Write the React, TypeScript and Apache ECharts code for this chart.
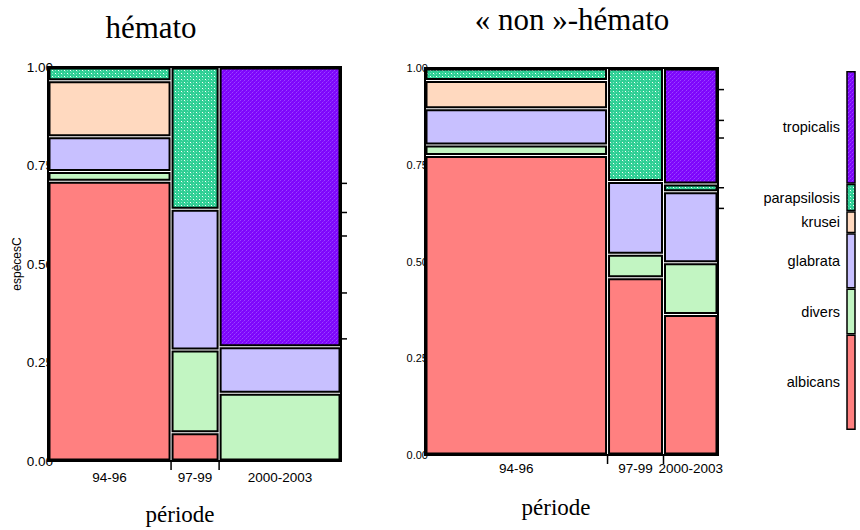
import React, { useEffect, useRef } from "react";
import * as echarts from "echarts";

// Species (stacking order, bottom to top) and periods (columns, left to right)
const species = ["albicans", "divers", "glabrata", "krusei", "parapsilosis", "tropicalis"];
const periods = ["94-96", "97-99", "2000-2003"];
const yTicks = [0, 0.25, 0.5, 0.75, 1];

// hémato: share of isolates per period (column widths)
const hematoPeriodShare = [0.42, 0.164, 0.416];
// hémato: proportion of each species within each period
const hematoAlbicans = [0.71, 0.072, 0];
const hematoDivers = [0.025, 0.21, 0.172];
const hematoGlabrata = [0.088, 0.357, 0.118];
const hematoKrusei = [0.142, 0, 0];
const hematoParapsilosis = [0.035, 0.361, 0];
const hematoTropicalis = [0, 0, 0.71];

// « non »-hémato: share of isolates per period (column widths)
const nonHematoPeriodShare = [0.623, 0.191, 0.186];
// « non »-hémato: proportion of each species within each period
const nonHematoAlbicans = [0.774, 0.458, 0.363];
const nonHematoDivers = [0.027, 0.061, 0.134];
const nonHematoGlabrata = [0.094, 0.188, 0.183];
const nonHematoKrusei = [0.073, 0, 0];
const nonHematoParapsilosis = [0.032, 0.293, 0.02];
const nonHematoTropicalis = [0, 0, 0.3];

// Legend bar segment shares (same order as species)
const legendShares = [0.266, 0.128, 0.154, 0.061, 0.077, 0.314];

const SANS = '"Liberation Sans", Arial, sans-serif';
const SERIF = '"Liberation Serif", "Times New Roman", serif';

function makeTile(size: number, base: string, pixels: [number, number, string][]) {
  const c = document.createElement("canvas");
  c.width = size;
  c.height = size;
  const ctx = c.getContext("2d")!;
  ctx.fillStyle = base;
  ctx.fillRect(0, 0, size, size);
  pixels.forEach(([x, y, col]) => {
    ctx.fillStyle = col;
    ctx.fillRect(x, y, 1, 1);
  });
  return c;
}

function speciesFills(): any[] {
  const tealTile = makeTile(6, "#2ecf94", [
    [1, 1, "#ffffff"],
    [4, 4, "#ffffff"],
    [4, 1, "#86e8c4"],
    [1, 4, "#86e8c4"],
    [2, 2, "#5cdcae"],
    [5, 5, "#5cdcae"],
  ]);
  const purpleTile = makeTile(4, "#7e06fb", [
    [0, 0, "#9a45ff"],
    [2, 2, "#9a45ff"],
    [1, 3, "#8a22ff"],
    [3, 1, "#8a22ff"],
  ]);
  return [
    "#ff8080",
    "#c2f5c2",
    "#c8c0ff",
    "#ffd9bf",
    { image: tealTile, repeat: "repeat" },
    { image: purpleTile, repeat: "repeat" },
  ];
}

// Mosaic cells: [x0, x1, y0, y1, speciesIndex]
function buildCells(shares: number[], bySpecies: number[][]) {
  const cells: number[][] = [];
  let x = 0;
  shares.forEach((w, c) => {
    let y = 0;
    bySpecies.forEach((vals, s) => {
      const v = vals[c];
      if (v > 0) cells.push([x, x + w, y, y + v, s]);
      y += v;
    });
    x += w;
  });
  return cells;
}

// Column extents: [x0, x1, periodIndex]
function buildColumns(shares: number[]) {
  const cols: number[][] = [];
  let x = 0;
  shares.forEach((w, c) => {
    cols.push([x, x + w, c]);
    x += w;
  });
  return cols;
}

// Cumulative marginal species proportions (inner boundaries only)
function buildMarginals(shares: number[], bySpecies: number[][]) {
  const out: number[][] = [];
  let cum = 0;
  bySpecies.forEach((vals, s) => {
    cum += vals.reduce((acc, v, c) => acc + v * shares[c], 0);
    if (s < bySpecies.length - 1) out.push([cum]);
  });
  return out;
}

export default function App() {
  const ref = useRef<HTMLDivElement>(null);

  useEffect(() => {
    if (!ref.current) return;
    const chart = echarts.init(ref.current, undefined, { renderer: "svg" });
    const fills = speciesFills();

    const hemato = [hematoAlbicans, hematoDivers, hematoGlabrata, hematoKrusei, hematoParapsilosis, hematoTropicalis];
    const nonHemato = [
      nonHematoAlbicans,
      nonHematoDivers,
      nonHematoGlabrata,
      nonHematoKrusei,
      nonHematoParapsilosis,
      nonHematoTropicalis,
    ];

    const cellSeries = (gridIdx: number, data: number[][]) => ({
      type: "custom",
      xAxisIndex: gridIdx,
      yAxisIndex: gridIdx,
      data,
      encode: { x: [0, 1], y: [2, 3] },
      z: 3,
      renderItem: (_p: any, api: any) => {
        const a = api.coord([api.value(0), api.value(2)]);
        const b = api.coord([api.value(1), api.value(3)]);
        const ins = 1.5;
        return {
          type: "rect",
          shape: {
            x: a[0] + ins,
            y: b[1] + ins,
            width: Math.max(0, b[0] - a[0] - 2 * ins),
            height: Math.max(0, a[1] - b[1] - 2 * ins),
          },
          style: { fill: fills[api.value(4)], stroke: "#000", lineWidth: 2 },
        };
      },
    });

    const periodSeries = (gridIdx: number, data: number[][], dy: number) => ({
      type: "custom",
      xAxisIndex: gridIdx,
      yAxisIndex: gridIdx,
      data,
      encode: { x: [0, 1] },
      z: 4,
      renderItem: (_p: any, api: any) => {
        const c = api.value(2);
        const a = api.coord([api.value(0), 0]);
        const b = api.coord([api.value(1), 0]);
        const children: any[] = [
          {
            type: "text",
            x: (a[0] + b[0]) / 2,
            y: a[1] + dy,
            style: {
              text: periods[c],
              fill: "#000",
              font: `13.5px ${SANS}`,
              align: "center",
              verticalAlign: "middle",
            },
          },
        ];
        if (c < periods.length - 1) {
          children.push({
            type: "line",
            shape: { x1: b[0], y1: b[1], x2: b[0], y2: b[1] + 9 },
            style: { stroke: "#000", lineWidth: 1.5 },
          });
        }
        return { type: "group", children };
      },
    });

    const marginalSeries = (gridIdx: number, data: number[][]) => ({
      type: "custom",
      xAxisIndex: gridIdx,
      yAxisIndex: gridIdx,
      data,
      encode: { y: 0 },
      z: 4,
      renderItem: (_p: any, api: any) => {
        const p = api.coord([1, api.value(0)]);
        return {
          type: "line",
          shape: { x1: p[0], y1: p[1], x2: p[0] + 6, y2: p[1] },
          style: { stroke: "#000", lineWidth: 1.5 },
        };
      },
    });

    const legendData: number[][] = [];
    let acc = 0;
    legendShares.forEach((v, s) => {
      legendData.push([acc, acc + v, s]);
      acc += v;
    });

    const yAxisBase = (gridIdx: number, fontSize: number, margin: number) => ({
      gridIndex: gridIdx,
      type: "value",
      min: 0,
      max: 1,
      interval: 0.25,
      z: 0,
      axisLine: { show: false },
      axisTick: { show: false },
      splitLine: { show: false },
      axisLabel: {
        margin,
        color: "#000",
        fontSize,
        fontFamily: SANS,
        formatter: (v: number) => v.toFixed(2),
        customValues: yTicks,
      },
    });

    const option: any = {
      animation: false,
      backgroundColor: "#fff",
      grid: [
        { left: 48, top: 67, width: 293, height: 394, show: true, borderColor: "#000", borderWidth: 2, backgroundColor: "transparent" },
        { left: 425, top: 68, width: 293, height: 387, show: true, borderColor: "#000", borderWidth: 2, backgroundColor: "transparent" },
        { left: 847, top: 71, width: 8, height: 359, show: false },
      ],
      xAxis: [0, 1, 2].map((i) => ({ gridIndex: i, type: "value", min: 0, max: 1, show: false })),
      yAxis: [
        {
          ...yAxisBase(0, 13.5, -5),
          name: "espècesC",
          nameLocation: "middle",
          nameGap: 22,
          nameRotate: 90,
          nameTextStyle: { color: "#000", fontSize: 12, fontFamily: SANS },
        },
        yAxisBase(1, 11, -3),
        { gridIndex: 2, type: "value", min: 0, max: 1, show: false },
      ],
      graphic: [
        {
          type: "text",
          x: 151,
          y: 27,
          style: { text: "hémato", font: `31px ${SERIF}`, fill: "#000", align: "center", verticalAlign: "middle", textAlign: "center", textVerticalAlign: "middle" },
        },
        {
          type: "text",
          x: 572,
          y: 19,
          style: { text: "« non »-hémato", font: `31px ${SERIF}`, fill: "#000", align: "center", verticalAlign: "middle", textAlign: "center", textVerticalAlign: "middle" },
        },
        {
          type: "text",
          x: 180,
          y: 514,
          style: { text: "période", font: `23px ${SERIF}`, fill: "#000", align: "center", verticalAlign: "middle", textAlign: "center", textVerticalAlign: "middle" },
        },
        {
          type: "text",
          x: 556,
          y: 507,
          style: { text: "période", font: `23px ${SERIF}`, fill: "#000", align: "center", verticalAlign: "middle", textAlign: "center", textVerticalAlign: "middle" },
        },
      ],
      series: [
        cellSeries(0, buildCells(hematoPeriodShare, hemato)),
        periodSeries(0, buildColumns(hematoPeriodShare), 16),
        marginalSeries(0, buildMarginals(hematoPeriodShare, hemato)),
        cellSeries(1, buildCells(nonHematoPeriodShare, nonHemato)),
        periodSeries(1, buildColumns(nonHematoPeriodShare), 13),
        marginalSeries(1, buildMarginals(nonHematoPeriodShare, nonHemato)),
        {
          type: "custom",
          xAxisIndex: 2,
          yAxisIndex: 2,
          data: legendData,
          encode: { y: [0, 1] },
          z: 4,
          renderItem: (_p: any, api: any) => {
            const s = api.value(2);
            const a = api.coord([0, api.value(0)]);
            const b = api.coord([1, api.value(1)]);
            return {
              type: "group",
              children: [
                {
                  type: "rect",
                  shape: { x: a[0], y: b[1] + 0.75, width: b[0] - a[0], height: Math.max(0, a[1] - b[1] - 1.5) },
                  style: { fill: fills[s], stroke: "#000", lineWidth: 1.5 },
                },
                {
                  type: "text",
                  x: a[0] - 7,
                  y: (a[1] + b[1]) / 2,
                  style: {
                    text: species[s],
                    fill: "#000",
                    font: `14.5px ${SANS}`,
                    align: "right",
                    verticalAlign: "middle",
                  },
                },
              ],
            };
          },
        },
      ],
    };

    chart.setOption(option);
    return () => chart.dispose();
  }, []);

  return (
    <div
      ref={ref}
      style={{ position: "absolute", left: 0, top: 0, width: 860, height: 530, background: "#fff" }}
    />
  );
}
